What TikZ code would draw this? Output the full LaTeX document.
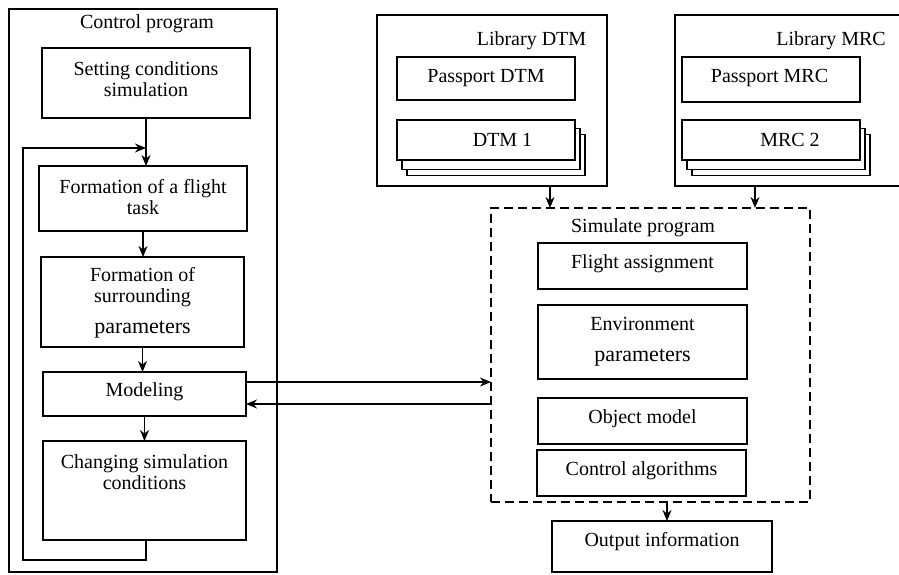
\documentclass[tikz,border=0pt]{standalone}
\usepackage{fontspec}
\setmainfont{Liberation Serif}
\usetikzlibrary{arrows.meta}

\begin{document}
\begin{tikzpicture}[x=1pt,y=-1pt,
  box/.style={draw=drawColor,fill=fillColor,line width=1.3pt,inner sep=0pt,outer sep=0pt},
  dbox/.style={box,dash pattern=on 9pt off 5pt},
  lbl/.style={text=drawColor,align=center,inner sep=0pt,outer sep=0pt,yshift=-2pt,font=\fontsize{20}{21}\selectfont},
  arr/.style={draw=drawColor,line width=1.3pt,-{Stealth[length=11pt,width=9pt,inset=3.5pt]}}]
\definecolor{fillColor}{RGB}{255,255,255}
\definecolor{drawColor}{RGB}{0,0,0}
\path[clip] (0,0) rectangle (899,574);
\path[fill=fillColor] (0,0) rectangle (899,574);

% control program
\node[box,minimum width=268pt,minimum height=563pt] (ctrl) at (143,290.5) {};

\node[lbl] (ctrlT) at (147,22) {Control program};

\node[box,minimum width=208pt,minimum height=70pt] (setcond) at (146,83) {};

\node[lbl] (setcondT) at (146,77.5) {Setting conditions\\simulation};

\node[box,minimum width=208pt,minimum height=65pt] (flight) at (143,198.5) {};

\node[lbl] (flightT) at (143,195.5) {Formation of a flight\\task};

\node[box,minimum width=203pt,minimum height=90pt] (surr) at (142.5,302) {};

\node[lbl] (surrT) at (142.5,301) {Formation of\\surrounding\\[10pt]{\fontsize{22}{22}\selectfont parameters}};

\node[box,minimum width=203pt,minimum height=44pt] (model) at (144.5,394) {};

\node[lbl] (modelT) at (144.5,390) {Modeling};

\node[box,minimum width=203pt,minimum height=99pt] (change) at (144.5,490.5) {};

\node[lbl] (changeT) at (144.5,470.5) {Changing simulation\\conditions};

\coordinate (loopbot) at (23,560);

\coordinate (loopin) at (146,148);

\draw[arr] (setcond.south) -- (setcond.south |- flight.north);

\draw[arr] (flight.south) -- (flight.south |- surr.north);

\draw[arr] (surr.south) -- (surr.south |- model.north);

\draw[arr] (model.south) -- (model.south |- change.north);

\draw[arr] ([xshift=1.5pt]change.south) |- (loopbot) |- (loopin);

% libraries
\node[box,minimum width=230pt,minimum height=171pt] (libdtm) at (492,100.5) {};

\node[lbl] (libdtmT) at (531.5,39) {Library DTM};

\node[box,minimum width=178pt,minimum height=43pt] (pdtm) at (486,78.5) {};

\node[lbl] (pdtmT) at (486,76) {Passport DTM};

\node[box,minimum width=178pt,minimum height=41pt] (dtmC) at (496,155) {};

\node[box,minimum width=178pt,minimum height=41pt] (dtmB) at (491,149) {};

\node[box,minimum width=178pt,minimum height=40pt] (dtmA) at (486,140) {};

\node[lbl] (dtmT) at (502.5,138) {DTM 1};

\node[box,minimum width=255pt,minimum height=171pt] (libmrc) at (802.5,100.5) {};

\node[lbl] (libmrcT) at (831,39) {Library MRC};

\node[box,minimum width=178pt,minimum height=45pt] (pmrc) at (771,79.5) {};

\node[lbl] (pmrcT) at (769.5,76) {Passport MRC};

\node[box,minimum width=178pt,minimum height=41pt] (mrcC) at (781,155) {};

\node[box,minimum width=178pt,minimum height=41pt] (mrcB) at (776,149) {};

\node[box,minimum width=178pt,minimum height=40pt] (mrcA) at (771,140) {};

\node[lbl] (mrcT) at (790,138) {MRC 2};

% simulate program
\node[dbox,minimum width=319pt,minimum height=294pt] (sim) at (650.5,355) {};

\node[lbl] (simT) at (643,226) {Simulate program};

\node[box,minimum width=209pt,minimum height=46pt] (assign) at (642.5,266) {};

\node[lbl] (assignT) at (642.5,262) {Flight assignment};

\node[box,minimum width=209pt,minimum height=74pt] (env) at (642.5,342) {};

\node[lbl] (envT) at (642.5,340) {Environment\\[10pt]{\fontsize{22}{22}\selectfont parameters}};

\node[box,minimum width=209pt,minimum height=46pt] (object) at (642.5,421) {};

\node[lbl] (objectT) at (642.5,417) {Object model};

\node[box,minimum width=209pt,minimum height=46pt] (algo) at (641.5,473) {};

\node[lbl] (algoT) at (641.5,469) {Control algorithms};

\node[box,minimum width=220pt,minimum height=51pt] (output) at (662,546.5) {};

\node[lbl] (outputT) at (662,540) {Output information};

\draw[arr] ([xshift=58pt]libdtm.south) -- ([xshift=58pt]libdtm.south |- sim.north);

\draw[arr] ([xshift=-47.5pt]libmrc.south) -- ([xshift=-47.5pt]libmrc.south |- sim.north);

\draw[arr] ([xshift=5pt]output.north |- sim.south) -- ([xshift=5pt]output.north);

\draw[arr] ([yshift=12pt]model.east) -- ([yshift=12pt]model.east -| sim.west);

\draw[arr] ([yshift=-10pt]model.east -| sim.west) -- ([yshift=-10pt]model.east);
\end{tikzpicture}
\end{document}
